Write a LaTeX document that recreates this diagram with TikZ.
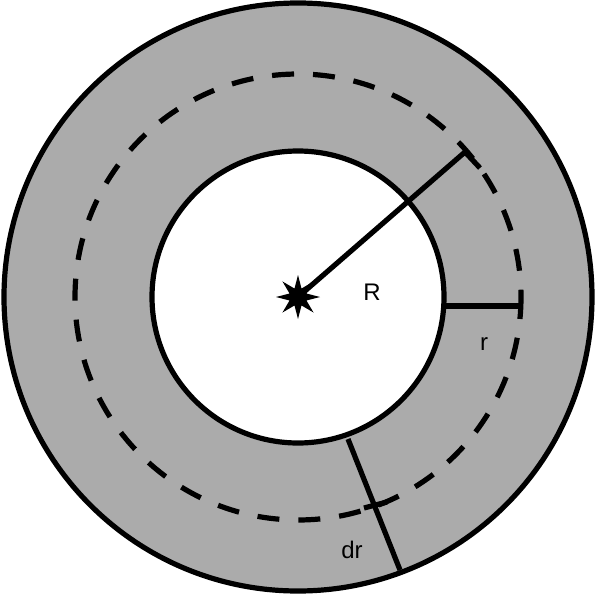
\documentclass[tikz,border=0pt]{standalone}
\usepackage{fontspec}
\setmainfont{Liberation Sans}
\usetikzlibrary{shapes.geometric}
\begin{document}
\begin{tikzpicture}[x=0.5pt,y=-0.5pt,
  thick line/.style={line width=2.6pt},
  lbl/.style={font=\fontsize{12}{14}\selectfont,inner sep=0pt}]
\useasboundingbox (0,0) rectangle (600,594);
\coordinate (c) at (298,297);
\fill[gray!65!white!95!black, fill={rgb,255:red,171;green,171;blue,171}] (c) circle[radius=294];
\draw[thick line] (c) circle[radius=294];
\draw[line width=2.6pt, dash pattern=on 11pt off 9.5pt] (c) circle[radius=223];
\fill[white] (c) circle[radius=146];
\draw[thick line] (c) circle[radius=146];
\node[star, star points=8, star point ratio=2.4, fill=black, minimum size=22pt, inner sep=0pt] (s) at (c) {};
\coordinate (Rend) at (465,152);
\coordinate (Rtick) at (480,168);
\draw[thick line] (c) -- (Rend) -- (Rtick);
\coordinate (r1) at (445,306);
\coordinate (r2) at (521,306);
\draw[thick line] (r1) -- (r2);
\coordinate (d1) at (348,439);
\coordinate (d2) at (400,570);
\draw[thick line] (d1) -- (d2);
\coordinate (t1) at (364,508);
\coordinate (t2) at (387,502);
\draw[thick line] (t1) -- (t2);
\node[lbl] (R) at (372,292) {R};
\node[lbl] (r) at (484,344) {r};
\node[lbl] (dr) at (352,550) {dr};
\end{tikzpicture}
\end{document}
